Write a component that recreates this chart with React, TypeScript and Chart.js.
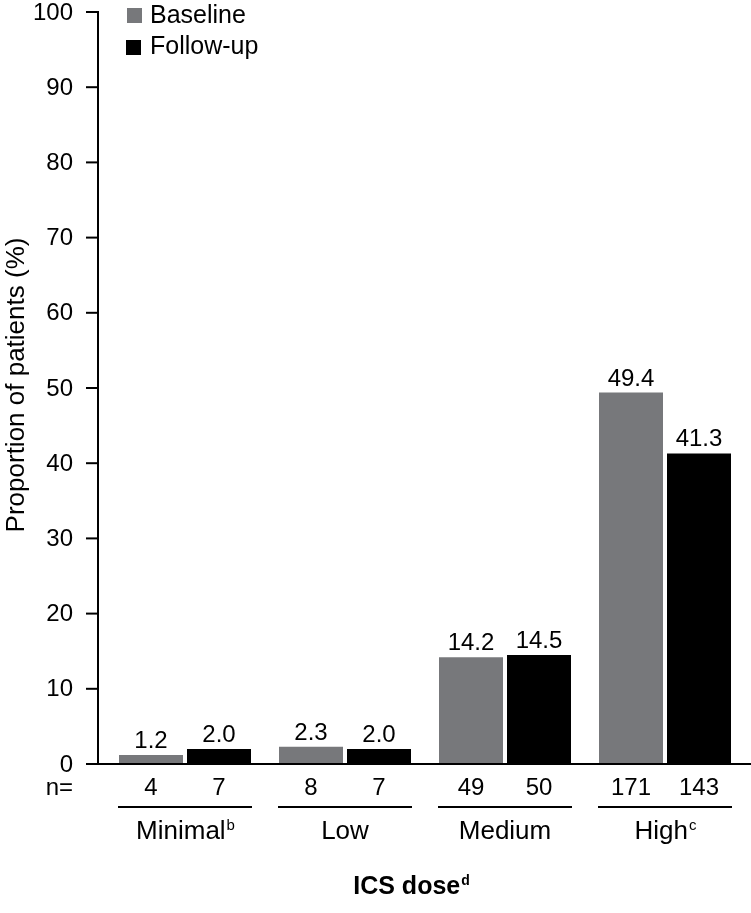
import React, { useEffect, useRef } from "react";
import { Chart, registerables } from "chart.js";

Chart.register(...registerables);

const categories = ["Minimal", "Low", "Medium", "High"];
const categorySuperscripts = ["b", "", "", "c"];
const seriesLabels = ["Baseline", "Follow-up"];
const baselineValues = [1.2, 2.3, 14.2, 49.4];
const followUpValues = [2.0, 2.0, 14.5, 41.3];
const baselineN = [4, 8, 49, 171];
const followUpN = [7, 7, 50, 143];
const yTickValues = [0, 10, 20, 30, 40, 50, 60, 70, 80, 90, 100];
const yAxisTitle = "Proportion of patients (%)";
const xAxisTitle = "ICS dose";
const xAxisTitleSup = "d";

const FONT = "'Liberation Sans', Arial, Helvetica, sans-serif";
const GRAY = "#77787b";
const BLACK = "#000000";

const overlayPlugin = {
  id: "overlay",
  afterDraw(chart: any) {
    const ctx = chart.ctx as CanvasRenderingContext2D;
    const area = chart.chartArea;
    const yScale = chart.scales.y;
    const axisX = area.left - 7;
    const y0 = yScale.getPixelForValue(0);
    const yTop = yScale.getPixelForValue(100);
    ctx.save();
    ctx.strokeStyle = "#000";
    ctx.fillStyle = "#000";
    ctx.lineWidth = 2;
    // y axis line
    ctx.beginPath();
    ctx.moveTo(axisX, yTop - 1);
    ctx.lineTo(axisX, y0);
    ctx.stroke();
    // y ticks + labels
    ctx.font = `24px ${FONT}`;
    ctx.textAlign = "right";
    ctx.textBaseline = "middle";
    yTickValues.forEach((v) => {
      const py = yScale.getPixelForValue(v);
      ctx.beginPath();
      ctx.moveTo(axisX - 12, py);
      ctx.lineTo(axisX + 1, py);
      ctx.stroke();
      ctx.fillText(String(v), 73, py + 1);
    });
    // x axis line
    ctx.beginPath();
    ctx.moveTo(axisX - 12, y0);
    ctx.lineTo(chart.width, y0);
    ctx.stroke();

    // value labels
    ctx.font = `24px ${FONT}`;
    ctx.textAlign = "center";
    ctx.textBaseline = "alphabetic";
    chart.data.datasets.forEach((ds: any, di: number) => {
      const meta = chart.getDatasetMeta(di);
      meta.data.forEach((bar: any, i: number) => {
        ctx.fillText(Number(ds.data[i]).toFixed(1), bar.x, bar.y - 7);
      });
    });

    // n row
    ctx.textBaseline = "middle";
    ctx.textAlign = "right";
    ctx.fillText("n=", 73, 788);
    ctx.textAlign = "center";
    const nRows = [baselineN, followUpN];
    nRows.forEach((row, di) => {
      const meta = chart.getDatasetMeta(di);
      meta.data.forEach((bar: any, i: number) => {
        ctx.fillText(String(row[i]), bar.x, 788);
      });
    });

    // group underlines and category labels
    const m0 = chart.getDatasetMeta(0);
    const m1 = chart.getDatasetMeta(1);
    categories.forEach((cat, i) => {
      const b0 = m0.data[i] as any;
      const b1 = m1.data[i] as any;
      const left = b0.x - b0.width / 2 - 1;
      const right = b1.x + b1.width / 2 + 1;
      ctx.beginPath();
      ctx.moveTo(left, 807);
      ctx.lineTo(right, 807);
      ctx.stroke();
      const cx = (left + right) / 2;
      ctx.font = `26px ${FONT}`;
      const w = ctx.measureText(cat).width;
      ctx.font = `15px ${FONT}`;
      const sup = categorySuperscripts[i];
      const sw = sup ? ctx.measureText(sup).width : 0;
      const start = cx - (w + sw) / 2;
      ctx.textAlign = "left";
      ctx.textBaseline = "alphabetic";
      ctx.font = `26px ${FONT}`;
      ctx.fillText(cat, start, 839);
      if (sup) {
        ctx.font = `15px ${FONT}`;
        ctx.fillText(sup, start + w + 1, 830);
      }
    });

    // x axis title
    ctx.font = `bold 25px ${FONT}`;
    const tw = ctx.measureText(xAxisTitle).width;
    ctx.font = `bold 14px ${FONT}`;
    const tsw = ctx.measureText(xAxisTitleSup).width;
    const tStart = 411 - (tw + tsw) / 2;
    ctx.textAlign = "left";
    ctx.font = `bold 25px ${FONT}`;
    ctx.fillText(xAxisTitle, tStart, 894);
    ctx.font = `bold 14px ${FONT}`;
    ctx.fillText(xAxisTitleSup, tStart + tw + 1, 885);

    // y axis title
    ctx.save();
    ctx.translate(24, (yTop + y0) / 2 - 3);
    ctx.rotate(-Math.PI / 2);
    ctx.textAlign = "center";
    ctx.textBaseline = "alphabetic";
    ctx.font = `26px ${FONT}`;
    ctx.fillText(yAxisTitle, 0, 0);
    ctx.restore();

    // legend
    const legendRows = [
      { sq: [127, 8], ty: 23 },
      { sq: [126, 40], ty: 54 },
    ];
    chart.data.datasets.forEach((ds: any, di: number) => {
      const r = legendRows[di];
      ctx.fillStyle = ds.backgroundColor;
      ctx.fillRect(r.sq[0], r.sq[1], 15, 15);
      ctx.fillStyle = "#000";
      ctx.font = `25px ${FONT}`;
      ctx.textAlign = "left";
      ctx.textBaseline = "alphabetic";
      ctx.fillText(ds.label, 150, r.ty);
    });
    ctx.restore();
  },
};

export default function App() {
  const ref = useRef<HTMLCanvasElement | null>(null);
  useEffect(() => {
    if (!ref.current) return;
    const chart = new Chart(ref.current, {
      type: "bar",
      data: {
        labels: categories,
        datasets: [
          {
            label: seriesLabels[0],
            data: baselineValues,
            backgroundColor: GRAY,
            categoryPercentage: 0.85,
            barPercentage: 64 / 68,
          },
          {
            label: seriesLabels[1],
            data: followUpValues,
            backgroundColor: BLACK,
            categoryPercentage: 0.85,
            barPercentage: 64 / 68,
          },
        ],
      },
      options: {
        animation: false,
        responsive: false,
        devicePixelRatio: 1,
        layout: { padding: { top: 12, right: 6, bottom: 149, left: 0 } },
        plugins: {
          legend: { display: false },
          tooltip: { enabled: false },
        },
        scales: {
          x: { display: false },
          y: {
            min: 0,
            max: 100,
            afterFit: (scale: any) => {
              scale.width = 105;
            },
            grid: { display: false },
            border: { display: false },
            ticks: { display: false, stepSize: 10 },
          },
        },
      },
      plugins: [overlayPlugin],
    });
    return () => chart.destroy();
  }, []);
  return (
    <div style={{ position: "absolute", left: 0, top: 0, width: 751, height: 913, background: "#fff" }}>
      <canvas ref={ref} width={751} height={913} style={{ display: "block" }} />
    </div>
  );
}
